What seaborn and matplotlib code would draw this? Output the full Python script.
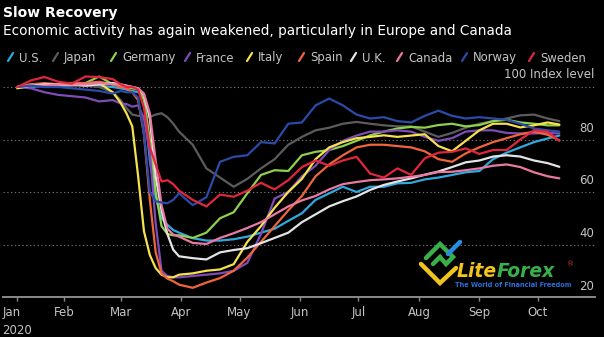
import matplotlib
matplotlib.use("Agg")
import matplotlib.pyplot as plt
import seaborn as sns
import pandas as pd
from matplotlib.lines import Line2D

# ---- data (day index: 0 = Jan 1, 2020) ----
days = [7, 14, 21, 28, 35, 42, 49, 56,
        60, 63, 66, 69, 72, 75, 78, 81, 84, 87, 90,
        97, 104, 111, 118, 125, 132, 139, 146, 153,
        160, 167, 174, 181, 188, 195, 202, 209, 216, 223, 230,
        237, 244, 251, 258, 265, 272, 279, 285]

us = [100, 100, 100.5, 100, 100.5, 101, 100.5, 100,
      99.5, 99, 98.5, 98, 96, 72, 58, 50, 47.5, 45.5, 44.5,
      42.4, 41.5, 41.5, 42, 43, 44.5, 46, 49, 51.9,
      57, 59.5, 62, 60, 62, 62, 63.3, 63.5, 64.8, 65.5, 66.5,
      67.5, 68, 72.5, 75, 77, 79, 80.4, 81.5]
japan = [100, 100.5, 100.5, 101, 100.5, 100.5, 100, 98,
         95, 92, 89.5, 89, 89, 88.6, 89.5, 90, 88.5, 86, 83,
         78, 69, 65.5, 62, 65, 69, 72.5, 78, 81,
         83.5, 84.5, 86, 86.7, 86, 85.4, 85, 85, 83, 81, 82.5,
         84.5, 86, 87, 88, 89.2, 89.5, 88, 87]
germany = [100, 101, 101, 100.5, 101, 101.5, 104, 101,
           100.5, 100, 99.5, 99, 95, 80, 60, 47, 44, 43.5, 43.5,
           42.5, 44.5, 50, 52.3, 59.5, 66.5, 68.3, 68, 74,
           75.3, 76, 77.5, 79.5, 81.6, 83, 84.2, 84.8, 84.5, 85.5, 86,
           85, 85.5, 87, 87.5, 86.5, 86, 85.4, 85.4]
france = [100, 99.5, 98, 97, 96.5, 96, 94.5, 95,
          93.7, 93.5, 92.5, 93, 88, 75, 48, 30, 28, 27.5, 27.5,
          28, 28.5, 29, 30, 33, 44, 57.5, 60, 66,
          70, 76, 79.5, 81.5, 83, 83, 83.5, 83, 81, 79.5, 80.5,
          83, 83.5, 83.5, 82.5, 82.3, 82.3, 82.5, 82.3]
italy = [99.5, 100.5, 101, 101, 101, 101, 101.5, 98,
         94, 90, 85, 66, 45, 36, 31, 28.5, 27.5, 27.5, 28.5,
         29, 30, 30.5, 32.5, 41, 47, 54, 60, 65,
         72.5, 77, 79, 80.5, 81, 81.6, 81, 81.5, 82, 77.5, 75.5,
         79.5, 83.5, 86, 86, 84.6, 85.4, 86.5, 85.7]
spain = [100, 101, 101.5, 101, 101.5, 101.5, 102, 101,
         100, 99.5, 98, 95, 82, 57, 37, 29, 27, 26, 24.7,
         23.5, 25.5, 27.2, 30, 35, 41, 47, 53, 58.5,
         66, 70.5, 74, 77, 78, 78, 77.5, 77, 75.5, 72.5, 71.5,
         74.7, 77, 79, 80.5, 82, 83, 81.8, 79.7]
uk = [100, 100.5, 101, 101, 101, 100.5, 101, 101.5,
      101, 100.5, 100, 99.5, 97, 88, 66, 53, 44, 38, 35.5,
      34.8, 34.3, 37, 37.9, 38.6, 40.5, 42.5, 44.5, 48.5,
      51.5, 54.5, 56.5, 58.3, 60.8, 62.7, 64, 65.2, 66.6, 67.8, 69.5,
      71.3, 72, 73.5, 74, 73.5, 72, 71, 69.6]
canada = [100, 100.5, 100.5, 101, 101, 101, 101.5, 101,
          101, 100.5, 100, 99.5, 97.5, 90, 72, 55, 46, 43.8, 43,
          40.6, 40.2, 42.5, 44.3, 46.3, 48.5, 51.5, 54.5, 56.8,
          58.5, 61, 63, 63.8, 64.5, 64.8, 65.2, 65.8, 66.5, 67.6, 67.7,
          68.3, 69, 70, 70.5, 69.5, 67.5, 66, 65.2]
norway = [100, 100.5, 100, 100, 99.5, 99, 98.5, 97.5,
          98.5, 98, 98, 96, 82, 60, 56.5, 56, 55.7, 57, 59.5,
          55, 58, 71.5, 73.4, 74, 79, 78.5, 86, 86.5,
          93, 95.6, 93, 89.5, 88, 88.5, 87, 86.5, 89, 91, 89,
          88, 88.5, 88, 87.5, 86, 84.2, 83.5, 83]
sweden = [100, 102.5, 103.8, 102, 101.3, 104, 103.8, 103,
          101, 100, 100, 99, 92, 77, 70.5, 64, 64.5, 63, 60.5,
          57, 54.5, 59, 58.2, 60.5, 63.5, 61, 64.5, 69.5,
          72, 70, 72, 73.4, 67, 65.5, 69, 66.5, 72.8, 75, 75.3,
          76.6, 74.5, 76, 76, 80, 83.5, 83, 79.5]

countries = ["U.S.", "Japan", "Germany", "France", "Italy",
             "Spain", "U.K.", "Canada", "Norway", "Sweden"]
series = [us, japan, germany, france, italy, spain, uk, canada, norway, sweden]
colors = ["#2fa9de", "#5c5c5c", "#8fd14a", "#7e4cb8", "#f6e14e",
          "#f1653b", "#e4e4e4", "#ea79a3", "#2b4ba8", "#e1263d"]

month_ticks = [7, 31, 60, 91, 121, 152, 182, 213, 244, 274]
month_labels = ["Jan\n2020", "Feb", "Mar", "Apr", "May", "Jun", "Jul", "Aug", "Sep", "Oct"]
y_levels = [20, 40, 60, 80, 100]
y_labels = ["20", "40", "60", "80", "100 Index level"]

df = pd.DataFrame({
    "day": days * len(countries),
    "value": sum(series, []),
    "country": sum([[c] * len(days) for c in countries], []),
})

# ---- style ----
sns.set_style("dark")
plt.rcParams["font.family"] = ["DejaVu Sans"]
BG = "black"
TXT = "#c4c4c4"

W, H = 604, 337
fig = plt.figure(figsize=(W / 100, H / 100), dpi=100, facecolor=BG)

def fx(x):
    return x / W

def fy(y):
    return 1 - y / H

ax_left, ax_right, ax_bottom, ax_top = 3, 595, 297, 71.25
ax = fig.add_axes([fx(ax_left), fy(ax_bottom), (ax_right - ax_left) / W, (ax_bottom - ax_top) / H])
ax.set_facecolor(BG)

sns.lineplot(data=df, x="day", y="value", hue="country", hue_order=countries,
             palette=colors, linewidth=1.6, legend=False, errorbar=None,
             estimator=None, ax=ax)

ax.set_xlim(-0.3, 303.3)
ax.set_ylim(20, 106)
ax.set_xlabel("")
ax.set_ylabel("")

ax.set_yticks([40, 60, 80, 100])
ax.tick_params(axis="y", left=False, labelleft=False)
ax.yaxis.grid(True, color="#707070", linestyle=(0, (1.2, 2.2)), linewidth=0.8)
ax.xaxis.grid(False)

ax.set_xticks(month_ticks)
ax.set_xticklabels(month_labels, color=TXT, fontsize=8.5, linespacing=1.45)
for lbl in ax.get_xticklabels():
    lbl.set_horizontalalignment("center")
    lbl.set_verticalalignment("top")
ax.get_xticklabels()[0].set_multialignment("left")
ax.tick_params(axis="x", bottom=True, direction="out", length=2.8, width=1,
               color="#8a8a8a", pad=4)

for s in ["left", "right", "top"]:
    ax.spines[s].set_visible(False)
ax.spines["bottom"].set_color("#8a8a8a")
ax.spines["bottom"].set_linewidth(1.4)

# y labels above gridlines, right aligned
for v, lab in zip(y_levels, y_labels):
    off = 6.5 if v == 100 else 5.4
    ax.annotate(lab, xy=(1, v), xycoords=("axes fraction", "data"),
                xytext=(-0.8, off), textcoords="offset points",
                ha="right", va="baseline", color=TXT, fontsize=8.5)

# ---- titles ----
fig.text(fx(3), fy(17), "Slow Recovery", color="white", fontsize=10,
         fontweight="bold", va="baseline", ha="left")
fig.text(fx(3), fy(34.5), "Economic activity has again weakened, particularly in Europe and Canada",
         color="white", fontsize=9.85, va="baseline", ha="left")

# ---- legend (slash + label) ----
leg_text_x = [19, 64, 122, 196, 258, 310, 362, 408, 473, 540]
for c, col, tx in zip(countries, colors, leg_text_x):
    sx = tx - 11
    fig.add_artist(Line2D([fx(sx), fx(sx + 5)], [fy(61), fy(53)],
                          transform=fig.transFigure, color=col, linewidth=1.6))
    fig.text(fx(tx), fy(61.5), c, color=TXT, fontsize=8.4, va="baseline", ha="left")

# ---- watermark ----
fig.add_artist(Line2D([fx(421), fx(440), fx(456)], [fy(264), fy(283), fy(268)],
                      transform=fig.transFigure, color="#f2c318", linewidth=3.2,
                      solid_joinstyle="miter"))
fig.add_artist(Line2D([fx(426), fx(440), fx(453), fx(446), fx(440), fx(433)],
                      [fy(258), fy(244), fy(257), fy(264), fy(257), fy(264)],
                      transform=fig.transFigure, color="#39b04a", linewidth=3.2,
                      solid_joinstyle="miter"))
fig.add_artist(Line2D([fx(448), fx(460)], [fy(254), fy(242)],
                      transform=fig.transFigure, color="#2a8ee0", linewidth=3.2))
fig.text(fx(457), fy(277), "Lite", color="#f2c318", fontsize=13.5,
         fontweight="bold", style="italic", va="baseline", ha="left")
fig.text(fx(497), fy(277), "Forex", color="#39b04a", fontsize=13.5,
         fontweight="bold", style="italic", va="baseline", ha="left")
fig.text(fx(567), fy(264), "®", color="#c0392b", fontsize=5, va="center", ha="left")
fig.text(fx(455), fy(287), "The World of Financial Freedom", color="#2a70d8",
         fontsize=4.7, fontweight="bold", va="baseline", ha="left")

fig.savefig("out.png", dpi=100, facecolor=BG)
